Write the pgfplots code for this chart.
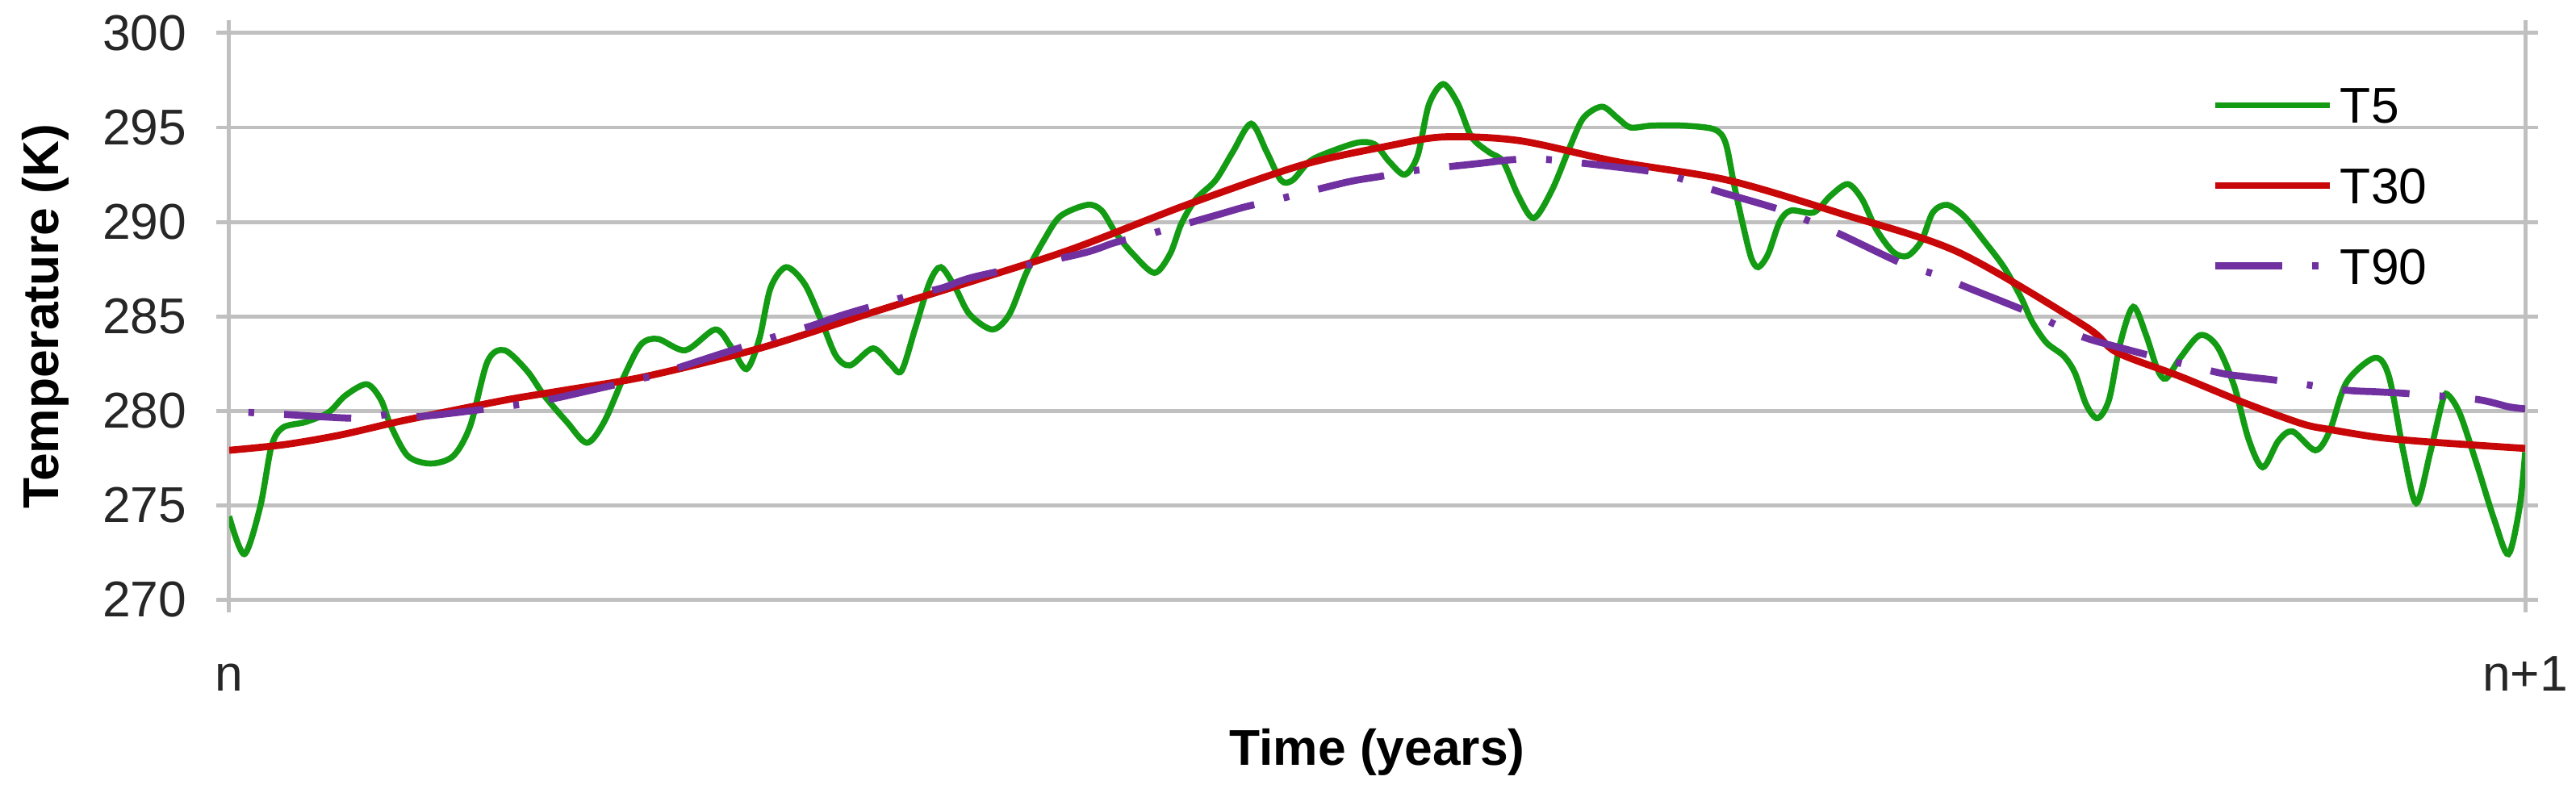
\documentclass[border=0pt]{standalone}
\usepackage{fontspec}
\setmainfont{Liberation Sans}
\usepackage{pgfplots}
\usepackage{pgfplotstable}
\pgfplotsset{compat=1.18}
\definecolor{tgreen}{RGB}{20,155,20}
\definecolor{tred}{RGB}{200,8,8}
\definecolor{tpurple}{RGB}{112,48,160}
\definecolor{gridgray}{RGB}{192,192,192}

% x = fraction of the year (n -> n+1), T in K
\pgfplotstableread{
x T
0.0000 274.4
0.0066 272.4
0.0135 274.9
0.0184 278.1
0.0233 279.1
0.0333 279.4
0.0432 279.9
0.0506 280.8
0.0599 281.4
0.0660 280.6
0.0704 279.2
0.0778 277.6
0.0877 277.2
0.0976 277.6
0.1050 279.2
0.1125 282.6
0.1199 283.2
0.1298 282.1
0.1372 280.8
0.1471 279.4
0.1558 278.3
0.1633 279.4
0.1719 281.8
0.1793 283.5
0.1867 283.8
0.1987 283.2
0.2117 284.3
0.2185 283.4
0.2253 282.2
0.2309 283.8
0.2358 286.5
0.2426 287.6
0.2507 286.7
0.2581 284.7
0.2643 282.9
0.2705 282.4
0.2804 283.3
0.2878 282.5
0.2928 282.1
0.2989 284.4
0.3051 286.8
0.3100 287.6
0.3163 286.5
0.3225 285.1
0.3324 284.3
0.3398 285.1
0.3472 287.3
0.3547 289.0
0.3620 290.3
0.3738 290.9
0.3800 290.6
0.3862 289.4
0.3936 288.3
0.4030 287.3
0.4098 288.3
0.4147 289.9
0.4210 291.2
0.4296 292.2
0.4371 293.7
0.4451 295.2
0.4519 293.7
0.4581 292.2
0.4631 292.2
0.4705 293.2
0.4792 293.7
0.4916 294.2
0.4990 294.1
0.5052 293.2
0.5120 292.5
0.5176 293.5
0.5225 296.2
0.5287 297.3
0.5350 296.3
0.5411 294.5
0.5486 293.7
0.5548 293.2
0.5614 291.4
0.5682 290.2
0.5762 291.7
0.5837 293.9
0.5898 295.5
0.5979 296.1
0.6047 295.5
0.6103 295.0
0.6196 295.1
0.6332 295.1
0.6468 294.9
0.6517 294.2
0.6554 292.0
0.6592 289.9
0.6629 288.1
0.6660 287.6
0.6703 288.3
0.6753 290.0
0.6802 290.6
0.6901 290.5
0.6976 291.4
0.7050 292.0
0.7112 291.2
0.7174 289.6
0.7248 288.4
0.7310 288.2
0.7371 289.0
0.7420 290.5
0.7482 290.9
0.7556 290.3
0.7643 289.0
0.7730 287.6
0.7804 286.0
0.7853 284.7
0.7915 283.6
0.7990 282.9
0.8039 282.0
0.8089 280.3
0.8138 279.6
0.8188 280.6
0.8237 283.6
0.8293 285.5
0.8349 284.0
0.8398 282.2
0.8436 281.7
0.8498 282.8
0.8584 284.0
0.8659 283.4
0.8733 281.3
0.8795 278.5
0.8857 277.0
0.8925 278.4
0.8987 278.9
0.9086 277.9
0.9148 278.9
0.9222 281.5
0.9346 282.8
0.9407 281.8
0.9470 277.8
0.9526 275.1
0.9587 277.8
0.9642 280.6
0.9667 280.8
0.9717 279.8
0.9791 277.1
0.9866 274.2
0.9927 272.4
0.9976 274.9
1.0000 277.8
}\tfive

\pgfplotstableread{
x T
0.000 277.9
0.024 278.2
0.048 278.7
0.073 279.4
0.097 280.0
0.122 280.6
0.147 281.1
0.181 281.8
0.231 283.3
0.280 285.2
0.330 287.1
0.368 288.6
0.417 290.9
0.467 293.0
0.504 294.0
0.529 294.5
0.562 294.3
0.604 293.2
0.653 292.2
0.703 290.4
0.753 288.4
0.808 284.5
0.822 283.1
0.850 281.8
0.878 280.4
0.903 279.3
0.915 279.0
0.935 278.6
0.952 278.4
0.975 278.2
1.000 278.0
}\tthirty

\pgfplotstableread{
x T
0.0000 279.9
0.0096 279.9
0.0246 279.8
0.0543 279.6
0.0698 279.8
0.0840 279.7
0.1250 280.3
0.1398 280.6
0.1546 281.0
0.1830 281.8
0.1963 282.3
0.2114 282.9
0.2398 284.0
0.2538 284.5
0.2681 285.1
0.2966 286.1
0.3106 286.5
0.3250 287.1
0.3705 288.3
0.3857 288.9
0.3993 289.3
0.4284 290.3
0.4427 290.8
0.4570 291.2
0.4867 292.1
0.5010 292.4
0.5151 292.7
0.5448 293.1
0.5597 293.3
0.5744 293.3
0.6177 292.7
0.6320 292.3
0.6462 291.7
0.6741 290.7
0.6890 290.0
0.7025 289.3
0.7285 287.8
0.7433 287.2
0.7575 286.5
0.7841 285.2
0.7983 284.4
0.8126 283.7
0.8633 282.1
0.8782 281.8
0.8922 281.6
0.9209 281.1
0.9350 281.0
0.9496 280.9
0.9787 280.6
0.9930 280.2
1.0000 280.1
}\tninety

\begin{document}
\begin{tikzpicture}
\begin{axis}[
  scale only axis, width=16.043cm, height=3.959cm,
  xmin=0, xmax=1, ymin=270, ymax=300,
  xtick={0,1}, xticklabels={n,n+1},
  ytick={270,275,...,300},
  xmajorgrids, ymajorgrids,
  grid style={gridgray, line width=0.8pt},
  axis line style={gridgray, line width=0.8pt},
  tick style={gridgray, line width=0.8pt},
  tick align=outside, major tick length=0.09cm,
  /pgf/number format/assume math mode=true,
  tick label style={font=\fontsize{10}{12}\selectfont, text=black!85},
  yticklabel style={inner sep=0pt, anchor=east, xshift=-0.2cm},
  xticklabel style={inner sep=0pt, anchor=base, yshift=-0.55cm},
  xlabel={Time (years)}, ylabel={Temperature (K)},
  label style={font=\bfseries\fontsize{10}{12}\selectfont},
  xlabel style={at={(axis description cs:0.5,-0.292)}, anchor=base},
  ylabel style={at={(axis description cs:-0.0742,0.5)}, anchor=base},
  legend cell align=left,
  legend image code/.code={\draw[#1, dash phase=0pt] (0cm,0cm) -- (0.8cm,0cm);},
  legend style={at={(axis description cs:0.863,0.7308)}, anchor=west,
    draw=none, fill=none, inner sep=0pt, row sep=8.8pt,
    font=\fontsize{10}{12}\selectfont,
    nodes={inner sep=0pt, text height=7.2pt, text depth=0pt},
    /tikz/every odd column/.append style={column sep=0.05cm}},
]
\addplot[tgreen, line width=1.2pt, smooth] table[x=x, y=T] {\tfive};
\addlegendentry{T5}
\addplot[tred, line width=1.4pt, smooth] table[x=x, y=T] {\tthirty};
\addlegendentry{T30}
\addplot[tpurple, line width=1.4pt, smooth,
  dash pattern=on 0.47cm off 0.21cm on 0.04cm off 0.21cm, dash phase=0.546cm]
  table[x=x, y=T] {\tninety};
\addlegendentry{T90}
\coordinate (bl) at (axis description cs:-0.09982,-0.33333);
\coordinate (tr) at (axis description cs:1.02214,1.05840);
\end{axis}
\pgfresetboundingbox
\path[use as bounding box] (bl) rectangle (tr);
\end{tikzpicture}
\end{document}
